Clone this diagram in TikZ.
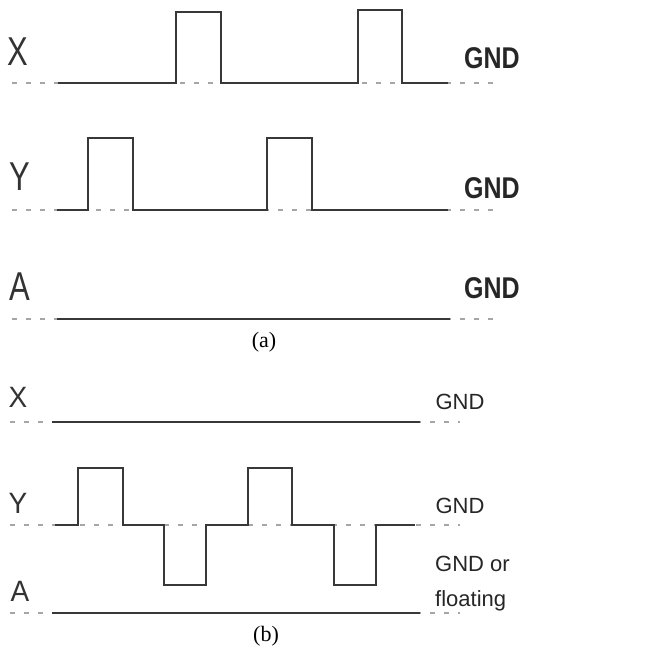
\documentclass[tikz,border=0pt]{standalone}
\usepackage{fontspec}
\setmainfont{Liberation Serif}
\newfontfamily\arialfont{Liberation Sans}
\begin{document}
\begin{tikzpicture}[x=1pt,y=-1pt,
  sig/.style={draw=black!78,line width=1.8pt,line join=miter},
  gnd/.style={draw=black!35,line width=2pt,dash pattern=on 5pt off 9pt},
  biglbl/.style={font=\arialfont\fontsize{31}{31}\selectfont,yscale=1.3,text=black!80,inner sep=0pt},
  smalllbl/.style={font=\arialfont\fontsize{28}{28}\selectfont,yscale=1.05,text=black!80,inner sep=0pt},
  gndA/.style={font=\arialfont\bfseries\fontsize{25}{25}\selectfont,yscale=1.2,text=black!85,inner sep=0pt},
  gndB/.style={font=\arialfont\fontsize{22}{22}\selectfont,text=black!85,inner sep=0pt},
  captext/.style={font=\fontsize{22}{22}\selectfont,inner sep=0pt}]
\useasboundingbox (0,0) rectangle (648,651);
% ---------- (a) ----------
\draw[gnd] (12,83) -- (495,83);
\draw[gnd] (12,210) -- (495,210);
\draw[gnd] (12,319) -- (495,319);
\draw[sig] (58,83) -- (176,83) -- (176,12) -- (221,12) -- (221,83) -- (358,83) -- (358,10) -- (402,10) -- (402,83) -- (448,83);
\draw[sig] (57,210) -- (88,210) -- (88,138) -- (133,138) -- (133,210) -- (267,210) -- (267,138) -- (312,138) -- (312,210) -- (448,210);
\draw[sig] (57,319) -- (450,319);
\node[biglbl] (xa) at (18,52) {X};
\node[biglbl] (ya) at (20,177) {Y};
\node[biglbl] (aa) at (20,287) {A};
\node[gndA] (gxa) at (492,58) {GND};
\node[gndA] (gya) at (492,188) {GND};
\node[gndA] (gaa) at (492,288) {GND};
\node[captext] (capa) at (264,342) {(a)};
% ---------- (b) ----------
\draw[gnd] (10,422) -- (460,422);
\draw[gnd] (10,525) -- (460,525);
\draw[gnd] (10,613) -- (460,613);
\draw[sig] (52,422) -- (420,422);
\draw[sig] (55,525) -- (78,525) -- (78,468) -- (123,468) -- (123,525) -- (164,525) -- (164,585) -- (206,585) -- (206,525) -- (248,525) -- (248,468) -- (292,468) -- (292,525) -- (334,525) -- (334,585) -- (376,585) -- (376,525) -- (415,525);
\draw[sig] (52,613) -- (420,613);
\node[smalllbl] (xb) at (18,397) {X};
\node[smalllbl] (yb) at (18,503) {Y};
\node[smalllbl] (ab) at (20,591) {A};
\node[gndB] (gxb) at (460,402) {GND};
\node[gndB] (gyb) at (460,506) {GND};
\node[gndB,anchor=west] (gab1) at (435,564) {GND or};
\node[gndB,anchor=west] (gab2) at (435,601) {floating};
\node[captext] (capb) at (266,636) {(b)};
\end{tikzpicture}
\end{document}
